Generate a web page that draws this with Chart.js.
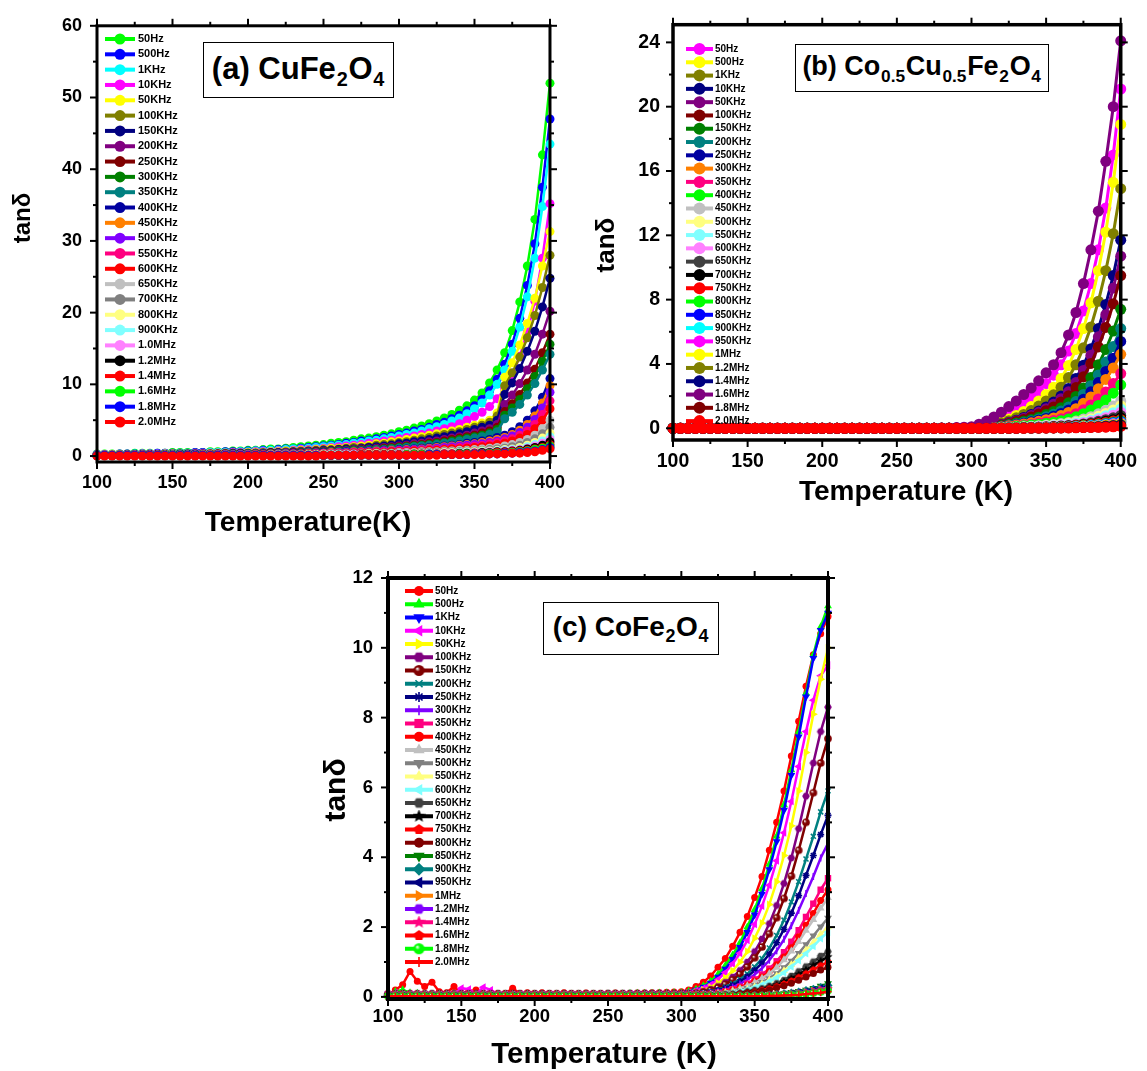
<!DOCTYPE html>
<html>
<head>
<meta charset="utf-8">
<title>tanδ vs temperature</title>
<script src="https://cdn.jsdelivr.net/npm/chart.js@4.4.1/dist/chart.umd.min.js"></script>
<style>
  html, body { margin: 0; padding: 0; background: #fff; }
  body { width: 1147px; height: 1071px; position: relative; overflow: hidden; font-family: "Liberation Sans", Arial, sans-serif; }
  canvas { position: absolute; display: block; }
  .tag { position: absolute; box-sizing: border-box; border: 1.3px solid #000; background: #fff; font-weight: bold; color: #000;
         white-space: nowrap; display: flex; align-items: center; justify-content: center; line-height: 1; padding-bottom: 4px; }
  .tag sub { font-size: 0.64em; position: relative; top: 0.6em; vertical-align: baseline; margin: 0 0.04em; }
</style>
</head>
<body>
<canvas id="panelA" width="575" height="540" style="left:0;top:0"></canvas>
<canvas id="panelB" width="572" height="520" style="left:575px;top:0"></canvas>
<canvas id="panelC" width="560" height="521" style="left:300px;top:550px"></canvas>
<div class="tag" style="left:203px;top:42px;width:191px;height:56px;font-size:31px">(a) CuFe<sub>2</sub>O<sub>4</sub></div>
<div class="tag" style="left:795px;top:44px;width:254px;height:48px;font-size:27px">(b) Co<sub>0.5</sub>Cu<sub>0.5</sub>Fe<sub>2</sub>O<sub>4</sub></div>
<div class="tag" style="left:543px;top:602px;width:176px;height:53px;font-size:28px">(c) CoFe<sub>2</sub>O<sub>4</sub></div>
<script>
// Measurement temperatures (K)
const temperature = [100,105,110,115,120,125,130,135,140,145,150,155,160,165,170,175,180,185,190,195,
  200,205,210,215,220,225,230,235,240,245,250,255,260,265,270,275,280,285,290,295,
  300,305,310,315,320,325,330,335,340,345,350,355,360,365,370,375,380,385,390,395,400];
const tempTicks = [100,150,200,250,300,350,400];

// ---------- (a) CuFe2O4 : tan delta per frequency ----------
const A_50Hz = [0.3,0.3,0.3,0.3,0.3,0.4,0.4,0.4,0.4,0.4,
0.5,0.5,0.5,0.5,0.5,0.6,0.6,0.6,0.7,0.7,
0.8,0.8,0.9,1.0,1.0,1.1,1.2,1.3,1.4,1.5,
1.6,1.8,1.9,2.0,2.2,2.4,2.5,2.7,2.9,3.1,
3.4,3.6,3.9,4.2,4.5,4.9,5.3,5.8,6.4,7.0,
7.8,8.8,10.2,12.0,14.4,17.5,21.5,26.5,33,42,
52];
const A_500Hz = [0.2,0.2,0.2,0.3,0.3,0.3,0.3,0.3,0.4,0.4,
0.4,0.4,0.4,0.5,0.5,0.5,0.5,0.6,0.6,0.6,
0.7,0.7,0.8,0.8,0.9,1.0,1.0,1.1,1.2,1.3,
1.4,1.5,1.6,1.8,1.9,2.1,2.2,2.4,2.6,2.8,
3.0,3.2,3.5,3.7,4.0,4.4,4.7,5.2,5.7,6.3,
7.0,7.9,9.1,10.7,12.8,15.6,19.2,23.8,29.6,37.5,
47];
const A_1kHz = [0.2,0.2,0.2,0.2,0.2,0.3,0.3,0.3,0.3,0.3,
0.3,0.4,0.4,0.4,0.4,0.5,0.5,0.5,0.5,0.6,
0.6,0.7,0.7,0.8,0.8,0.9,1.0,1.0,1.1,1.2,
1.3,1.4,1.5,1.6,1.8,1.9,2.1,2.2,2.4,2.6,
2.8,3.0,3.2,3.5,3.8,4.1,4.4,4.9,5.3,5.9,
6.6,7.4,8.5,10.0,12.0,14.6,18.0,22.2,27.6,34.8,
43.5];
const A_10kHz = [0.2,0.2,0.2,0.2,0.2,0.2,0.3,0.3,0.3,0.3,
0.3,0.3,0.3,0.4,0.4,0.4,0.4,0.4,0.5,0.5,
0.5,0.6,0.6,0.6,0.7,0.7,0.8,0.9,0.9,1.0,
1.1,1.2,1.3,1.4,1.5,1.6,1.8,1.9,2.1,2.2,
2.4,2.6,2.8,3.0,3.2,3.5,3.8,4.1,4.5,5.0,
5.5,6.1,6.9,8.0,9.4,11.3,13.9,17.3,21.6,27.6,
35.2];
const A_50kHz = [0.1,0.1,0.2,0.2,0.2,0.2,0.2,0.2,0.2,0.3,
0.3,0.3,0.3,0.3,0.3,0.4,0.4,0.4,0.4,0.4,
0.5,0.5,0.5,0.6,0.6,0.7,0.7,0.8,0.8,0.9,
1.0,1.1,1.1,1.2,1.3,1.4,1.5,1.7,1.8,2.0,
2.1,2.3,2.5,2.7,2.9,3.1,3.3,3.5,3.7,4.0,
4.3,4.6,5.0,6.0,11.0,13.0,15.5,18.5,22.0,26.5,
31.3];
const A_100kHz = [0.1,0.1,0.1,0.2,0.2,0.2,0.2,0.2,0.2,0.2,
0.3,0.3,0.3,0.3,0.3,0.3,0.3,0.4,0.4,0.4,
0.4,0.4,0.5,0.5,0.5,0.6,0.6,0.7,0.7,0.8,
0.9,0.9,1.0,1.1,1.2,1.2,1.3,1.5,1.6,1.7,
1.9,2.0,2.2,2.4,2.6,2.8,3.0,3.2,3.4,3.7,
4.0,4.3,4.7,5.6,9.8,11.6,13.8,16.5,19.6,23.5,
28.0];
const A_150kHz = [0.1,0.1,0.1,0.1,0.2,0.2,0.2,0.2,0.2,0.2,
0.2,0.3,0.3,0.3,0.3,0.3,0.3,0.3,0.4,0.4,
0.4,0.4,0.4,0.5,0.5,0.5,0.6,0.6,0.7,0.7,
0.8,0.8,0.9,1.0,1.0,1.1,1.2,1.3,1.4,1.5,
1.7,1.8,2.0,2.1,2.3,2.5,2.7,2.9,3.1,3.4,
3.7,4.0,4.3,5.0,8.6,10.2,12.2,14.6,17.4,20.8,
24.8];
const A_200kHz = [0.1,0.1,0.1,0.1,0.1,0.2,0.2,0.2,0.2,0.2,
0.2,0.2,0.2,0.3,0.3,0.3,0.3,0.3,0.3,0.3,
0.3,0.4,0.4,0.4,0.4,0.5,0.5,0.6,0.6,0.6,
0.7,0.7,0.8,0.8,0.9,1.0,1.0,1.1,1.2,1.3,
1.4,1.5,1.7,1.8,2.0,2.1,2.3,2.5,2.7,2.9,
3.2,3.5,3.8,4.4,7.2,8.5,10.1,12.0,14.2,17.0,
20.2];
const A_250kHz = [0.1,0.1,0.1,0.1,0.1,0.1,0.1,0.2,0.2,0.2,
0.2,0.2,0.2,0.2,0.2,0.2,0.3,0.3,0.3,0.3,
0.3,0.3,0.3,0.4,0.4,0.4,0.5,0.5,0.5,0.6,
0.6,0.7,0.7,0.8,0.8,0.9,0.9,1.0,1.1,1.2,
1.3,1.4,1.5,1.6,1.8,1.9,2.1,2.3,2.5,2.7,
2.9,3.2,3.5,4.0,6.2,7.3,8.6,10.2,12.1,14.4,
17.0];
const A_300kHz = [0.1,0.1,0.1,0.1,0.1,0.1,0.1,0.1,0.1,0.2,
0.2,0.2,0.2,0.2,0.2,0.2,0.2,0.2,0.3,0.3,
0.3,0.3,0.3,0.3,0.4,0.4,0.4,0.5,0.5,0.5,
0.6,0.6,0.7,0.7,0.8,0.8,0.9,0.9,1.0,1.1,
1.2,1.3,1.4,1.5,1.6,1.8,1.9,2.1,2.3,2.5,
2.7,2.9,3.2,3.7,5.7,6.7,7.9,9.4,11.1,13.2,
15.6];
const A_350kHz = [0.1,0.1,0.1,0.1,0.1,0.1,0.1,0.1,0.1,0.1,
0.2,0.2,0.2,0.2,0.2,0.2,0.2,0.2,0.2,0.2,
0.3,0.3,0.3,0.3,0.3,0.4,0.4,0.4,0.5,0.5,
0.5,0.6,0.6,0.7,0.7,0.8,0.8,0.9,0.9,1.0,
1.1,1.2,1.3,1.4,1.5,1.6,1.8,1.9,2.1,2.3,
2.5,2.7,3.0,3.4,5.2,6.1,7.2,8.5,10.1,12.0,
14.2];
const A_400kHz = [0.1,0.1,0.1,0.1,0.1,0.1,0.1,0.1,0.1,0.1,
0.1,0.1,0.2,0.2,0.2,0.2,0.2,0.2,0.2,0.2,
0.2,0.2,0.3,0.3,0.3,0.3,0.4,0.4,0.4,0.4,
0.5,0.5,0.5,0.6,0.6,0.7,0.7,0.7,0.8,0.8,
0.9,1.0,1.0,1.1,1.2,1.3,1.4,1.5,1.6,1.8,
1.9,2.1,2.3,2.6,2.9,3.4,4.1,5.0,6.3,8.2,
10.8];
const A_450kHz = [0.1,0.1,0.1,0.1,0.1,0.1,0.1,0.1,0.1,0.1,
0.1,0.1,0.1,0.1,0.2,0.2,0.2,0.2,0.2,0.2,
0.2,0.2,0.2,0.3,0.3,0.3,0.3,0.3,0.4,0.4,
0.4,0.5,0.5,0.5,0.6,0.6,0.6,0.7,0.7,0.8,
0.8,0.9,0.9,1.0,1.1,1.2,1.3,1.4,1.5,1.6,
1.7,1.9,2.1,2.3,2.6,3.0,3.6,4.4,5.6,7.4,
9.8];
const A_500kHz = [0.1,0.1,0.1,0.1,0.1,0.1,0.1,0.1,0.1,0.1,
0.1,0.1,0.1,0.1,0.1,0.1,0.2,0.2,0.2,0.2,
0.2,0.2,0.2,0.2,0.3,0.3,0.3,0.3,0.3,0.4,
0.4,0.4,0.5,0.5,0.5,0.5,0.6,0.6,0.7,0.7,
0.8,0.8,0.9,0.9,1.0,1.1,1.2,1.3,1.4,1.5,
1.6,1.7,1.9,2.1,2.4,2.8,3.3,4.0,5.1,6.7,
8.9];
const A_550kHz = [0.1,0.1,0.1,0.1,0.1,0.1,0.1,0.1,0.1,0.1,
0.1,0.1,0.1,0.1,0.1,0.1,0.1,0.1,0.1,0.1,
0.2,0.2,0.2,0.2,0.2,0.3,0.3,0.3,0.3,0.3,
0.4,0.4,0.4,0.4,0.5,0.5,0.5,0.6,0.6,0.6,
0.7,0.7,0.8,0.8,0.9,0.9,1.0,1.1,1.2,1.3,
1.4,1.5,1.7,1.9,2.1,2.4,2.9,3.5,4.4,5.8,
7.7];
const A_600kHz = [0.1,0.1,0.1,0.1,0.1,0.1,0.1,0.1,0.1,0.1,
0.1,0.1,0.1,0.1,0.1,0.1,0.1,0.1,0.1,0.1,
0.1,0.2,0.2,0.2,0.2,0.2,0.2,0.3,0.3,0.3,
0.3,0.3,0.4,0.4,0.4,0.4,0.5,0.5,0.5,0.6,
0.6,0.6,0.7,0.7,0.8,0.8,0.9,1.0,1.0,1.1,
1.2,1.3,1.4,1.6,1.8,2.1,2.5,3.0,3.8,5.0,
6.6];
const A_650kHz = [0.1,0.1,0.1,0.1,0.1,0.1,0.1,0.1,0.1,0.1,
0.1,0.1,0.1,0.1,0.1,0.1,0.1,0.1,0.1,0.1,
0.1,0.1,0.1,0.2,0.2,0.2,0.2,0.2,0.2,0.2,
0.3,0.3,0.3,0.3,0.3,0.3,0.4,0.4,0.4,0.4,
0.5,0.5,0.5,0.6,0.6,0.6,0.7,0.7,0.8,0.8,
0.9,1.0,1.1,1.2,1.4,1.6,1.9,2.3,2.9,3.8,
5.0];
const A_700kHz = [0.1,0.1,0.1,0.1,0.1,0.1,0.1,0.1,0.1,0.1,
0.1,0.1,0.1,0.1,0.1,0.1,0.1,0.1,0.1,0.1,
0.1,0.1,0.1,0.1,0.1,0.2,0.2,0.2,0.2,0.2,
0.2,0.2,0.3,0.3,0.3,0.3,0.3,0.3,0.4,0.4,
0.4,0.4,0.4,0.5,0.5,0.5,0.6,0.6,0.6,0.7,
0.7,0.8,0.9,1.0,1.1,1.3,1.5,1.9,2.4,3.1,
4.0];
const A_800kHz = [0.1,0.1,0.1,0.1,0.1,0.1,0.1,0.1,0.1,0.1,
0.1,0.1,0.1,0.1,0.1,0.1,0.1,0.1,0.1,0.1,
0.1,0.1,0.1,0.1,0.1,0.1,0.1,0.1,0.2,0.2,
0.2,0.2,0.2,0.2,0.2,0.2,0.3,0.3,0.3,0.3,
0.3,0.3,0.4,0.4,0.4,0.4,0.5,0.5,0.5,0.6,
0.6,0.7,0.7,0.8,0.9,1.0,1.2,1.5,1.9,2.5,
3.2];
const A_900kHz = [0.1,0.1,0.1,0.1,0.1,0.1,0.1,0.1,0.1,0.1,
0.1,0.1,0.1,0.1,0.1,0.1,0.1,0.1,0.1,0.1,
0.1,0.1,0.1,0.1,0.1,0.1,0.1,0.1,0.1,0.1,
0.1,0.2,0.2,0.2,0.2,0.2,0.2,0.2,0.2,0.3,
0.3,0.3,0.3,0.3,0.4,0.4,0.4,0.4,0.5,0.5,
0.5,0.6,0.6,0.7,0.8,0.9,1.0,1.3,1.6,2.1,
2.7];
const A_1MHz = [0.1,0.1,0.1,0.1,0.1,0.1,0.1,0.1,0.1,0.1,
0.1,0.1,0.1,0.1,0.1,0.1,0.1,0.1,0.1,0.1,
0.1,0.1,0.1,0.1,0.1,0.1,0.1,0.1,0.1,0.1,
0.1,0.1,0.1,0.2,0.2,0.2,0.2,0.2,0.2,0.2,
0.3,0.3,0.3,0.3,0.3,0.3,0.4,0.4,0.4,0.4,
0.5,0.5,0.6,0.6,0.7,0.8,0.9,1.1,1.4,1.8,
2.3];
const A_1p2MHz = [0.1,0.1,0.1,0.1,0.1,0.1,0.1,0.1,0.1,0.1,
0.1,0.1,0.1,0.1,0.1,0.1,0.1,0.1,0.1,0.1,
0.1,0.1,0.1,0.1,0.1,0.1,0.1,0.1,0.1,0.1,
0.1,0.1,0.1,0.1,0.1,0.2,0.2,0.2,0.2,0.2,
0.2,0.2,0.3,0.3,0.3,0.3,0.3,0.3,0.4,0.4,
0.4,0.5,0.5,0.6,0.6,0.7,0.8,1.0,1.2,1.5,
2.0];
const A_1p4MHz = [0.1,0.1,0.1,0.1,0.1,0.1,0.1,0.1,0.1,0.1,
0.1,0.1,0.1,0.1,0.1,0.1,0.1,0.1,0.1,0.1,
0.1,0.1,0.1,0.1,0.1,0.1,0.1,0.1,0.1,0.1,
0.1,0.1,0.1,0.1,0.1,0.2,0.2,0.2,0.2,0.2,
0.2,0.2,0.2,0.2,0.2,0.3,0.3,0.3,0.3,0.3,
0.4,0.4,0.4,0.5,0.5,0.6,0.7,0.8,1.0,1.2,
1.6];
const A_1p6MHz = [0.1,0.1,0.1,0.1,0.1,0.1,0.1,0.1,0.1,0.1,
0.1,0.1,0.1,0.1,0.1,0.1,0.1,0.1,0.1,0.1,
0.1,0.1,0.1,0.1,0.1,0.1,0.1,0.1,0.1,0.1,
0.1,0.1,0.1,0.1,0.1,0.1,0.1,0.1,0.1,0.1,
0.1,0.2,0.2,0.2,0.2,0.2,0.2,0.2,0.3,0.3,
0.3,0.3,0.4,0.4,0.4,0.5,0.6,0.7,0.9,1.1,
1.4];
const A_1p8MHz = [0.1,0.1,0.1,0.1,0.1,0.1,0.1,0.1,0.1,0.1,
0.1,0.1,0.1,0.1,0.1,0.1,0.1,0.1,0.1,0.1,
0.1,0.1,0.1,0.1,0.1,0.1,0.1,0.1,0.1,0.1,
0.1,0.1,0.1,0.1,0.1,0.1,0.1,0.1,0.1,0.1,
0.1,0.1,0.1,0.1,0.2,0.2,0.2,0.2,0.2,0.2,
0.3,0.3,0.3,0.3,0.4,0.4,0.5,0.6,0.7,0.9,
1.2];
const A_2MHz = [0,0,0,0,0,0,0,0,0,0,
0,0,0,0,0,0,0,0,0,0,
0,0,0,0,0,0,0,0,0,0,
0.1,0.1,0.1,0.1,0.1,0.1,0.1,0.1,0.1,0.1,
0.1,0.1,0.1,0.1,0.1,0.1,0.2,0.2,0.2,0.2,
0.2,0.2,0.3,0.3,0.3,0.4,0.4,0.5,0.6,0.8,
1.0];

// ---------- (b) Co0.5Cu0.5Fe2O4 ----------
const B_50Hz = [0,0,0,0,0,0,0,0,0,0,
0,0,0,0,0,0,0,0,0,0,
0,0,0,0,0,0,0,0,0,0,
0,0,0,0,0,0,0,0,0.01,0.03,
0.05,0.12,0.25,0.42,0.65,0.92,1.22,1.55,1.92,2.32,
2.78,3.3,3.95,4.8,5.9,7.3,9.0,11.1,13.7,17.0,
21.1];
const B_500Hz = [0,0,0,0,0,0,0,0,0,0,
0,0,0,0,0,0,0,0,0,0,
0,0,0,0,0,0,0,0,0,0,
0,0,0,0,0,0,0,0,0,0.01,
0.03,0.08,0.15,0.25,0.4,0.58,0.8,1.05,1.35,1.7,
2.1,2.55,3.1,3.9,4.9,6.2,7.8,9.8,12.2,15.3,
18.9];
const B_1kHz = [0,0,0,0,0,0,0,0,0,0,
0,0,0,0,0,0,0,0,0,0,
0,0,0,0,0,0,0,0,0,0,
0,0,0,0,0,0,0,0,0,0,
0.02,0.06,0.12,0.2,0.32,0.47,0.65,0.86,1.1,1.38,
1.7,2.08,2.55,3.15,3.95,5.0,6.3,7.9,9.8,12.1,
14.9];
const B_10kHz = [0,0,0,0,0,0,0,0,0,0,
0,0,0,0,0,0,0,0,0,0,
0,0,0,0,0,0,0,0,0,0,
0,0,0,0,0,0,0,0,0,0,
0.02,0.05,0.09,0.15,0.24,0.36,0.5,0.67,0.86,1.08,
1.33,1.63,2.0,2.47,3.1,3.92,4.94,6.2,7.7,9.5,
11.7];
const B_50kHz = [0,0,0,0,0,0,0,0,0,0,
0,0,0,0,0,0,0,0,0,0,
0,0,0,0,0,0,0,0,0,0,
0,0,0,0,0,0,0,0,0,0,
0.01,0.04,0.09,0.14,0.23,0.34,0.47,0.62,0.79,0.99,
1.22,1.5,1.84,2.27,2.84,3.6,4.54,5.69,7.06,8.72,
10.7];
const B_100kHz = [0,0,0,0,0,0,0,0,0,0,
0,0,0,0,0,0,0,0,0,0,
0,0,0,0,0,0,0,0,0,0,
0,0,0,0,0,0,0,0,0,0,
0.01,0.04,0.08,0.13,0.2,0.3,0.42,0.55,0.7,0.88,
1.09,1.33,1.63,2.02,2.53,3.2,4.03,5.06,6.27,7.74,
9.5];
const B_150kHz = [0,0,0,0,0,0,0,0,0,0,
0,0,0,0,0,0,0,0,0,0,
0,0,0,0,0,0,0,0,0,0,
0,0,0,0,0,0,0,0,0,0,
0.01,0.03,0.06,0.1,0.16,0.24,0.33,0.43,0.55,0.69,
0.85,1.04,1.28,1.58,1.98,2.5,3.15,3.95,4.9,6.05,
7.4];
const B_200kHz = [0,0,0,0,0,0,0,0,0,0,
0,0,0,0,0,0,0,0,0,0,
0,0,0,0,0,0,0,0,0,0,
0,0,0,0,0,0,0,0,0,0,
0.01,0.03,0.05,0.08,0.13,0.2,0.27,0.36,0.46,0.58,
0.71,0.87,1.07,1.32,1.66,2.1,2.65,3.32,4.12,5.08,
6.2];
const B_250kHz = [0,0,0,0,0,0,0,0,0,0,
0,0,0,0,0,0,0,0,0,0,
0,0,0,0,0,0,0,0,0,0,
0,0,0,0,0,0,0,0,0,0,
0.01,0.02,0.04,0.07,0.12,0.17,0.23,0.31,0.4,0.5,
0.61,0.75,0.92,1.13,1.42,1.8,2.27,2.84,3.53,4.36,
5.4];
const B_300kHz = [0,0,0,0,0,0,0,0,0,0,
0,0,0,0,0,0,0,0,0,0,
0,0,0,0,0,0,0,0,0,0,
0,0,0,0,0,0,0,0,0,0,
0.01,0.02,0.04,0.06,0.1,0.15,0.2,0.27,0.34,0.43,
0.53,0.64,0.79,0.98,1.22,1.55,1.95,2.45,3.04,3.75,
4.6];
const B_350kHz = [0,0,0,0,0,0,0,0,0,0,
0,0,0,0,0,0,0,0,0,0,
0,0,0,0,0,0,0,0,0,0,
0,0,0,0,0,0,0,0,0,0,
0,0.01,0.03,0.05,0.07,0.11,0.15,0.2,0.25,0.32,
0.39,0.48,0.59,0.72,0.91,1.15,1.45,1.82,2.25,2.78,
3.4];
const B_400kHz = [0,0,0,0,0,0,0,0,0,0,
0,0,0,0,0,0,0,0,0,0,
0,0,0,0,0,0,0,0,0,0,
0,0,0,0,0,0,0,0,0,0,
0,0.01,0.02,0.04,0.06,0.08,0.12,0.15,0.2,0.25,
0.31,0.37,0.46,0.57,0.71,0.9,1.13,1.42,1.76,2.18,
2.7];
const B_450kHz = [0,0,0,0,0,0,0,0,0,0,
0,0,0,0,0,0,0,0,0,0,
0,0,0,0,0,0,0,0,0,0,
0,0,0,0,0,0,0,0,0,0,
0,0.01,0.01,0.02,0.04,0.05,0.07,0.1,0.13,0.16,
0.19,0.24,0.29,0.36,0.45,0.57,0.72,0.9,1.12,1.38,
1.7];
const B_500kHz = [0,0,0,0,0,0,0,0,0,0,
0,0,0,0,0,0,0,0,0,0,
0,0,0,0,0,0,0,0,0,0,
0,0,0,0,0,0,0,0,0,0,
0,0.01,0.01,0.02,0.03,0.04,0.06,0.08,0.1,0.13,
0.16,0.2,0.24,0.3,0.37,0.47,0.59,0.74,0.92,1.14,
1.4];
const B_550kHz = [0,0,0,0,0,0,0,0,0,0,
0,0,0,0,0,0,0,0,0,0,
0,0,0,0,0,0,0,0,0,0,
0,0,0,0,0,0,0,0,0,0,
0,0,0.01,0.02,0.03,0.04,0.05,0.07,0.09,0.11,
0.14,0.17,0.2,0.25,0.32,0.4,0.5,0.63,0.78,0.97,
1.2];
const B_600kHz = [0,0,0,0,0,0,0,0,0,0,
0,0,0,0,0,0,0,0,0,0,
0,0,0,0,0,0,0,0,0,0,
0,0,0,0,0,0,0,0,0,0,
0,0,0.01,0.01,0.02,0.03,0.04,0.06,0.07,0.09,
0.11,0.14,0.17,0.21,0.26,0.34,0.42,0.53,0.66,0.81,
1.0];
const B_650kHz = [0,0,0,0,0,0,0,0,0,0,
0,0,0,0,0,0,0,0,0,0,
0,0,0,0,0,0,0,0,0,0,
0,0,0,0,0,0,0,0,0,0,
0,0,0.01,0.01,0.02,0.03,0.04,0.05,0.06,0.07,
0.09,0.11,0.14,0.17,0.21,0.27,0.34,0.43,0.53,0.65,
0.8];
const B_700kHz = [0,0,0,0,0,0,0,0,0,0,
0,0,0,0,0,0,0,0,0,0,
0,0,0,0,0,0,0,0,0,0,
0,0,0,0,0,0,0,0,0,0,
0,0,0,0.01,0.02,0.02,0.03,0.04,0.05,0.06,
0.07,0.09,0.11,0.14,0.17,0.22,0.27,0.34,0.43,0.53,
0.65];
const B_750kHz = [0,0,0,0,0,0,0,0,0,0,
0,0,0,0,0,0,0,0,0,0,
0,0,0,0,0,0,0,0,0,0,
0,0,0,0,0,0,0,0,0,0,
0,0,0,0.01,0.01,0.02,0.02,0.03,0.04,0.05,
0.06,0.08,0.09,0.12,0.15,0.18,0.23,0.29,0.36,0.45,
0.55];
const B_800kHz = [0,0,0,0,0,0,0,0,0,0,
0,0,0,0,0,0,0,0,0,0,
0,0,0,0,0,0,0,0,0,0,
0,0,0,0,0,0,0,0,0,0,
0,0,0,0,0.01,0.01,0.02,0.02,0.03,0.04,
0.05,0.06,0.08,0.1,0.12,0.15,0.19,0.24,0.3,0.38,
0.48];
const B_850kHz = [0,0,0,0,0,0,0,0,0,0,
0,0,0,0,0,0,0,0,0,0,
0,0,0,0,0,0,0,0,0,0,
0,0,0,0,0,0,0,0,0,0,
0,0,0,0,0,0.01,0.01,0.02,0.03,0.03,
0.04,0.05,0.07,0.08,0.1,0.13,0.17,0.21,0.27,0.34,
0.42];
const B_900kHz = [0,0,0,0,0,0,0,0,0,0,
0,0,0,0,0,0,0,0,0,0,
0,0,0,0,0,0,0,0,0,0,
0,0,0,0,0,0,0,0,0,0,
0,0,0,0,0,0.01,0.01,0.02,0.02,0.03,
0.04,0.05,0.06,0.07,0.09,0.12,0.15,0.19,0.24,0.3,
0.37];
const B_950kHz = [0,0,0,0,0,0,0,0,0,0,
0,0,0,0,0,0,0,0,0,0,
0,0,0,0,0,0,0,0,0,0,
0,0,0,0,0,0,0,0,0,0,
0,0,0,0,0,0,0.01,0.01,0.02,0.02,
0.03,0.04,0.05,0.06,0.08,0.1,0.13,0.16,0.2,0.26,
0.32];
const B_1MHz = [0,0,0,0,0,0,0,0,0,0,
0,0,0,0,0,0,0,0,0,0,
0,0,0,0,0,0,0,0,0,0,
0,0,0,0,0,0,0,0,0,0,
0,0,0,0,0,0,0.01,0.01,0.02,0.02,
0.03,0.03,0.04,0.05,0.07,0.09,0.11,0.14,0.18,0.22,
0.28];
const B_1p2MHz = [0,0,0,0,0,0,0,0,0,0,
0,0,0,0,0,0,0,0,0,0,
0,0,0,0,0,0,0,0,0,0,
0,0,0,0,0,0,0,0,0,0,
0,0,0,0,0,0,0.01,0.01,0.01,0.02,
0.02,0.03,0.04,0.05,0.06,0.07,0.09,0.12,0.15,0.19,
0.24];
const B_1p4MHz = [0,0,0,0,0,0,0,0,0,0,
0,0,0,0,0,0,0,0,0,0,
0,0,0,0,0,0,0,0,0,0,
0,0,0,0,0,0,0,0,0,0,
0,0,0,0,0,0,0,0.01,0.01,0.02,
0.02,0.02,0.03,0.04,0.05,0.06,0.08,0.1,0.13,0.16,
0.2];
const B_1p6MHz = [0,0,0,0,0,0,0,0,0,0,
0,0,0,0,0,0,0,0,0,0,
0,0,0,0,0,0,0,0,0,0,
0,0,0,0,0,0,0.01,0.02,0.04,0.07,
0.1,0.25,0.45,0.7,1.0,1.35,1.7,2.1,2.5,2.95,
3.45,3.95,4.7,5.8,7.2,9.0,11.1,13.5,16.6,20.0,
24.1];
const B_1p8MHz = [0,0,0,0,0,0,0,0,0,0,
0,0,0,0,0,0,0,0,0,0,
0,0,0,0,0,0,0,0,0,0,
0,0,0,0,0,0,0,0,0,0,
0,0,0,0,0,0,0,0.01,0.01,0.01,
0.02,0.02,0.02,0.03,0.04,0.05,0.06,0.07,0.09,0.12,
0.15];
const B_2MHz = [0,0,0,0,0,0,0,0,0,0,
0,0,0,0,0,0,0,0,0,0,
0,0,0,0,0,0,0,0,0,0,
0,0,0,0,0,0,0,0,0,0,
0,0,0,0,0,0,0,0,0.01,0.01,
0.01,0.02,0.02,0.02,0.03,0.04,0.05,0.06,0.07,0.09,
0.12];

// ---------- (c) CoFe2O4 ----------
const C_50Hz = [0.05,0.2,0.35,0.73,0.45,0.3,0.42,0.15,0.12,0.3,
0.1,0.15,0.2,0.1,0.12,0.1,0.1,0.25,0.1,0.12,
0.1,0.12,0.1,0.1,0.12,0.1,0.1,0.11,0.1,0.1,
0.1,0.11,0.1,0.1,0.11,0.11,0.12,0.12,0.13,0.14,
0.15,0.2,0.3,0.42,0.6,0.85,1.1,1.45,1.85,2.3,
2.85,3.45,4.2,5.0,5.9,6.9,7.9,8.9,9.8,10.4,
10.9];
const C_500Hz = [0.05,0.15,0.2,0.12,0.1,0.08,0.08,0.08,0.08,0.08,
0.08,0.08,0.08,0.08,0.08,0.08,0.08,0.08,0.08,0.08,
0.08,0.08,0.08,0.08,0.08,0.08,0.08,0.08,0.08,0.08,
0.09,0.09,0.09,0.1,0.1,0.1,0.1,0.11,0.11,0.12,
0.12,0.16,0.22,0.32,0.45,0.65,0.9,1.2,1.55,2.0,
2.5,3.1,3.8,4.6,5.5,6.5,7.6,8.7,9.8,10.6,
11.2];
const C_1kHz = [0.08,0.08,0.08,0.08,0.08,0.08,0.08,0.08,0.08,0.08,
0.08,0.08,0.08,0.08,0.08,0.08,0.08,0.08,0.08,0.08,
0.08,0.08,0.08,0.08,0.08,0.08,0.08,0.08,0.08,0.08,
0.09,0.09,0.09,0.09,0.1,0.1,0.1,0.1,0.1,0.1,
0.1,0.14,0.2,0.28,0.4,0.57,0.8,1.08,1.42,1.85,
2.35,2.95,3.65,4.45,5.35,6.35,7.45,8.6,9.7,10.5,
11.0];
const C_10kHz = [0.08,0.12,0.08,0.08,0.08,0.08,0.08,0.08,0.08,0.08,
0.25,0.22,0.08,0.28,0.2,0.08,0.08,0.08,0.08,0.08,
0.08,0.08,0.08,0.08,0.08,0.08,0.08,0.08,0.08,0.08,
0.08,0.08,0.09,0.09,0.09,0.1,0.1,0.1,0.1,0.1,
0.1,0.13,0.18,0.25,0.35,0.5,0.7,0.95,1.25,1.62,
2.08,2.6,3.2,3.9,4.7,5.6,6.6,7.6,8.5,9.2,
9.5];
const C_50kHz = [0.08,0.08,0.08,0.08,0.08,0.08,0.08,0.08,0.08,0.08,
0.08,0.08,0.08,0.08,0.08,0.08,0.08,0.08,0.08,0.08,
0.08,0.08,0.08,0.08,0.08,0.08,0.08,0.08,0.08,0.08,
0.09,0.09,0.09,0.09,0.09,0.09,0.09,0.09,0.09,0.09,
0.1,0.11,0.14,0.2,0.28,0.4,0.55,0.75,1.0,1.3,
1.68,2.12,2.65,3.3,4.05,4.9,5.9,7.0,8.1,9.1,
10.0];
const C_100kHz = [0.09,0.09,0.09,0.09,0.09,0.09,0.09,0.09,0.09,0.09,
0.09,0.09,0.09,0.09,0.09,0.09,0.09,0.09,0.09,0.09,
0.09,0.09,0.09,0.09,0.09,0.09,0.09,0.09,0.09,0.09,
0.1,0.1,0.1,0.1,0.1,0.1,0.1,0.1,0.1,0.1,
0.1,0.1,0.12,0.16,0.22,0.3,0.42,0.57,0.76,1.0,
1.3,1.66,2.1,2.62,3.25,3.98,4.82,5.75,6.7,7.6,
8.3];
const C_150kHz = [0.09,0.09,0.09,0.09,0.09,0.09,0.09,0.09,0.09,0.09,
0.09,0.09,0.09,0.09,0.09,0.09,0.09,0.09,0.09,0.09,
0.09,0.09,0.09,0.09,0.09,0.09,0.09,0.09,0.09,0.09,
0.09,0.09,0.09,0.09,0.09,0.09,0.09,0.09,0.09,0.09,
0.09,0.09,0.1,0.14,0.19,0.26,0.36,0.49,0.65,0.86,
1.12,1.43,1.81,2.27,2.82,3.46,4.2,5.0,5.85,6.7,
7.4];
const C_200kHz = [0.08,0.08,0.08,0.08,0.08,0.08,0.08,0.08,0.08,0.08,
0.08,0.08,0.08,0.08,0.08,0.08,0.08,0.08,0.08,0.08,
0.08,0.08,0.08,0.08,0.08,0.08,0.08,0.08,0.08,0.08,
0.08,0.08,0.08,0.08,0.08,0.08,0.08,0.08,0.08,0.08,
0.08,0.08,0.09,0.11,0.15,0.2,0.28,0.38,0.5,0.66,
0.86,1.1,1.4,1.76,2.2,2.72,3.3,3.95,4.6,5.3,
5.9];
const C_250kHz = [0.08,0.08,0.08,0.08,0.08,0.08,0.08,0.08,0.08,0.08,
0.08,0.08,0.08,0.08,0.08,0.08,0.08,0.08,0.08,0.08,
0.08,0.08,0.08,0.08,0.08,0.08,0.08,0.08,0.08,0.08,
0.08,0.08,0.08,0.08,0.08,0.08,0.08,0.08,0.08,0.08,
0.08,0.08,0.08,0.1,0.13,0.18,0.25,0.33,0.44,0.58,
0.76,0.97,1.23,1.55,1.94,2.4,2.9,3.48,4.05,4.65,
5.2];
const C_300kHz = [0.07,0.07,0.07,0.07,0.07,0.07,0.07,0.07,0.07,0.07,
0.07,0.07,0.07,0.07,0.07,0.07,0.07,0.07,0.07,0.07,
0.07,0.07,0.07,0.07,0.07,0.07,0.07,0.07,0.07,0.07,
0.07,0.07,0.07,0.07,0.07,0.07,0.07,0.07,0.07,0.07,
0.07,0.07,0.08,0.09,0.11,0.15,0.21,0.28,0.37,0.5,
0.64,0.82,1.05,1.32,1.65,2.04,2.48,2.96,3.45,3.98,
4.4];
const C_350kHz = [0.07,0.07,0.07,0.07,0.07,0.07,0.07,0.07,0.07,0.07,
0.07,0.07,0.07,0.07,0.07,0.07,0.07,0.07,0.07,0.07,
0.07,0.07,0.07,0.07,0.07,0.07,0.07,0.07,0.07,0.07,
0.07,0.07,0.07,0.07,0.07,0.07,0.07,0.07,0.07,0.07,
0.07,0.07,0.07,0.08,0.09,0.12,0.16,0.22,0.29,0.38,
0.5,0.64,0.81,1.02,1.28,1.58,1.91,2.29,2.67,3.07,
3.4];
const C_400kHz = [0.06,0.06,0.06,0.06,0.06,0.06,0.06,0.06,0.06,0.06,
0.06,0.06,0.06,0.06,0.06,0.06,0.06,0.06,0.06,0.06,
0.06,0.06,0.06,0.06,0.06,0.06,0.06,0.06,0.06,0.06,
0.06,0.06,0.06,0.06,0.06,0.06,0.06,0.06,0.06,0.06,
0.06,0.06,0.07,0.07,0.08,0.1,0.15,0.2,0.26,0.34,
0.45,0.57,0.73,0.92,1.14,1.41,1.72,2.05,2.39,2.76,
3.07];
const C_450kHz = [0.06,0.06,0.06,0.06,0.06,0.06,0.06,0.06,0.06,0.06,
0.06,0.06,0.06,0.06,0.06,0.06,0.06,0.06,0.06,0.06,
0.06,0.06,0.06,0.06,0.06,0.06,0.06,0.06,0.06,0.06,
0.06,0.06,0.06,0.06,0.06,0.06,0.06,0.06,0.06,0.06,
0.06,0.06,0.06,0.07,0.08,0.1,0.13,0.18,0.24,0.32,
0.41,0.53,0.67,0.84,1.06,1.31,1.58,1.9,2.21,2.54,
2.84];
const C_500kHz = [0.06,0.06,0.06,0.06,0.06,0.06,0.06,0.06,0.06,0.06,
0.06,0.06,0.06,0.06,0.06,0.06,0.06,0.06,0.06,0.06,
0.06,0.06,0.06,0.06,0.06,0.06,0.06,0.06,0.06,0.06,
0.06,0.06,0.06,0.06,0.06,0.06,0.06,0.06,0.06,0.06,
0.06,0.06,0.06,0.06,0.07,0.08,0.11,0.14,0.19,0.25,
0.33,0.42,0.53,0.67,0.84,1.03,1.25,1.5,1.75,2.01,
2.26];
const C_550kHz = [0.05,0.05,0.05,0.05,0.05,0.05,0.05,0.05,0.05,0.05,
0.05,0.05,0.05,0.05,0.05,0.05,0.05,0.05,0.05,0.05,
0.05,0.05,0.05,0.05,0.05,0.05,0.05,0.05,0.05,0.05,
0.05,0.05,0.05,0.05,0.05,0.05,0.05,0.05,0.05,0.05,
0.05,0.05,0.05,0.06,0.06,0.07,0.1,0.13,0.17,0.22,
0.29,0.37,0.48,0.6,0.75,0.92,1.12,1.34,1.56,1.8,
2.0];
const C_600kHz = [0.05,0.05,0.05,0.05,0.05,0.05,0.05,0.05,0.05,0.05,
0.05,0.05,0.05,0.05,0.05,0.05,0.05,0.05,0.05,0.05,
0.05,0.05,0.05,0.05,0.05,0.05,0.05,0.05,0.05,0.05,
0.05,0.05,0.05,0.05,0.05,0.05,0.05,0.05,0.05,0.05,
0.05,0.05,0.05,0.05,0.06,0.07,0.09,0.12,0.16,0.21,
0.27,0.35,0.44,0.55,0.69,0.86,1.04,1.24,1.45,1.67,
1.86];
const C_650kHz = [0.05,0.05,0.05,0.05,0.05,0.05,0.05,0.05,0.05,0.05,
0.05,0.05,0.05,0.05,0.05,0.05,0.05,0.05,0.05,0.05,
0.05,0.05,0.05,0.05,0.05,0.05,0.05,0.05,0.05,0.05,
0.05,0.05,0.05,0.05,0.05,0.05,0.05,0.05,0.05,0.05,
0.05,0.05,0.05,0.05,0.05,0.06,0.07,0.08,0.11,0.15,
0.19,0.24,0.31,0.39,0.48,0.6,0.73,0.87,1.01,1.17,
1.3];
const C_700kHz = [0.04,0.04,0.04,0.04,0.04,0.04,0.04,0.04,0.04,0.04,
0.04,0.04,0.04,0.04,0.04,0.04,0.04,0.04,0.04,0.04,
0.04,0.04,0.04,0.04,0.04,0.04,0.04,0.04,0.04,0.04,
0.04,0.04,0.04,0.04,0.04,0.04,0.04,0.04,0.04,0.04,
0.04,0.04,0.04,0.04,0.05,0.05,0.06,0.07,0.1,0.13,
0.17,0.21,0.27,0.34,0.43,0.53,0.64,0.77,0.9,1.03,
1.15];
const C_750kHz = [0.04,0.04,0.04,0.04,0.04,0.04,0.04,0.04,0.04,0.04,
0.04,0.04,0.04,0.04,0.04,0.04,0.04,0.04,0.04,0.04,
0.04,0.04,0.04,0.04,0.04,0.04,0.04,0.04,0.04,0.04,
0.04,0.04,0.04,0.04,0.04,0.04,0.04,0.04,0.04,0.04,
0.04,0.04,0.04,0.04,0.04,0.05,0.05,0.06,0.09,0.11,
0.15,0.19,0.24,0.3,0.37,0.46,0.56,0.67,0.78,0.9,
1.0];
const C_800kHz = [0.04,0.04,0.04,0.04,0.04,0.04,0.04,0.04,0.04,0.04,
0.04,0.04,0.04,0.04,0.04,0.04,0.04,0.04,0.04,0.04,
0.04,0.04,0.04,0.04,0.04,0.04,0.04,0.04,0.04,0.04,
0.04,0.04,0.04,0.04,0.04,0.04,0.04,0.04,0.04,0.04,
0.04,0.04,0.04,0.04,0.04,0.04,0.05,0.06,0.07,0.1,
0.12,0.16,0.2,0.26,0.32,0.39,0.48,0.57,0.67,0.77,
0.85];
const C_850kHz = [0.03,0.03,0.03,0.03,0.03,0.03,0.03,0.03,0.03,0.03,
0.03,0.03,0.03,0.03,0.03,0.03,0.03,0.03,0.03,0.03,
0.03,0.03,0.03,0.03,0.03,0.03,0.03,0.03,0.03,0.03,
0.03,0.03,0.03,0.03,0.03,0.03,0.03,0.03,0.03,0.03,
0.03,0.03,0.03,0.03,0.03,0.03,0.03,0.03,0.03,0.03,
0.04,0.05,0.06,0.08,0.1,0.13,0.16,0.2,0.25,0.31,
0.38];
const C_900kHz = [0.03,0.03,0.03,0.03,0.03,0.03,0.03,0.03,0.03,0.03,
0.03,0.03,0.03,0.03,0.03,0.03,0.03,0.03,0.03,0.03,
0.03,0.03,0.03,0.03,0.03,0.03,0.03,0.03,0.03,0.03,
0.03,0.03,0.03,0.03,0.03,0.03,0.03,0.03,0.03,0.03,
0.03,0.03,0.03,0.03,0.03,0.03,0.03,0.03,0.03,0.03,
0.04,0.04,0.05,0.07,0.09,0.11,0.14,0.18,0.22,0.27,
0.33];
const C_950kHz = [0.03,0.03,0.03,0.03,0.03,0.03,0.03,0.03,0.03,0.03,
0.03,0.03,0.03,0.03,0.03,0.03,0.03,0.03,0.03,0.03,
0.03,0.03,0.03,0.03,0.03,0.03,0.03,0.03,0.03,0.03,
0.03,0.03,0.03,0.03,0.03,0.03,0.03,0.03,0.03,0.03,
0.03,0.03,0.03,0.03,0.03,0.03,0.03,0.03,0.03,0.03,
0.03,0.04,0.05,0.06,0.08,0.1,0.13,0.16,0.2,0.25,
0.3];
const C_1MHz = [0.03,0.03,0.03,0.03,0.03,0.03,0.03,0.03,0.03,0.03,
0.03,0.03,0.03,0.03,0.03,0.03,0.03,0.03,0.03,0.03,
0.03,0.03,0.03,0.03,0.03,0.03,0.03,0.03,0.03,0.03,
0.03,0.03,0.03,0.03,0.03,0.03,0.03,0.03,0.03,0.03,
0.03,0.03,0.03,0.03,0.03,0.03,0.03,0.03,0.03,0.03,
0.03,0.04,0.05,0.06,0.07,0.09,0.11,0.14,0.18,0.22,
0.27];
const C_1p2MHz = [0.02,0.02,0.02,0.02,0.02,0.02,0.02,0.02,0.02,0.02,
0.02,0.02,0.02,0.02,0.02,0.02,0.02,0.02,0.02,0.02,
0.02,0.02,0.02,0.02,0.02,0.02,0.02,0.02,0.02,0.02,
0.02,0.02,0.02,0.02,0.02,0.02,0.02,0.02,0.02,0.02,
0.02,0.02,0.02,0.02,0.02,0.02,0.02,0.02,0.02,0.02,
0.03,0.03,0.04,0.05,0.06,0.08,0.1,0.12,0.15,0.19,
0.24];
const C_1p4MHz = [0.02,0.02,0.02,0.02,0.02,0.02,0.02,0.02,0.02,0.02,
0.02,0.02,0.02,0.02,0.02,0.02,0.02,0.02,0.02,0.02,
0.02,0.02,0.02,0.02,0.02,0.02,0.02,0.02,0.02,0.02,
0.02,0.02,0.02,0.02,0.02,0.02,0.02,0.02,0.02,0.02,
0.02,0.02,0.02,0.02,0.02,0.02,0.02,0.02,0.02,0.02,
0.03,0.03,0.04,0.05,0.06,0.07,0.09,0.11,0.14,0.18,
0.22];
const C_1p6MHz = [0.02,0.02,0.02,0.02,0.02,0.02,0.02,0.02,0.02,0.02,
0.02,0.02,0.02,0.02,0.02,0.02,0.02,0.02,0.02,0.02,
0.02,0.02,0.02,0.02,0.02,0.02,0.02,0.02,0.02,0.02,
0.02,0.02,0.02,0.02,0.02,0.02,0.02,0.02,0.02,0.02,
0.02,0.02,0.02,0.02,0.02,0.02,0.02,0.02,0.02,0.02,
0.02,0.03,0.03,0.04,0.05,0.06,0.08,0.1,0.13,0.16,
0.2];
const C_1p8MHz = [0.02,0.02,0.02,0.02,0.02,0.02,0.02,0.02,0.02,0.02,
0.02,0.02,0.02,0.02,0.02,0.02,0.02,0.02,0.02,0.02,
0.02,0.02,0.02,0.02,0.02,0.02,0.02,0.02,0.02,0.02,
0.02,0.02,0.02,0.02,0.02,0.02,0.02,0.02,0.02,0.02,
0.02,0.02,0.02,0.02,0.02,0.02,0.02,0.02,0.02,0.02,
0.02,0.03,0.03,0.04,0.05,0.06,0.07,0.09,0.11,0.14,
0.18];
const C_2MHz = [0.02,0.02,0.02,0.02,0.02,0.02,0.02,0.02,0.02,0.02,
0.02,0.02,0.02,0.02,0.02,0.02,0.02,0.02,0.02,0.02,
0.02,0.02,0.02,0.02,0.02,0.02,0.02,0.02,0.02,0.02,
0.02,0.02,0.02,0.02,0.02,0.02,0.02,0.02,0.02,0.02,
0.02,0.02,0.02,0.02,0.02,0.02,0.02,0.02,0.02,0.02,
0.02,0.02,0.03,0.03,0.04,0.05,0.06,0.08,0.1,0.12,
0.15];

// Legend labels
const A_labels = ['50Hz','500Hz','1KHz','10KHz','50KHz','100KHz','150KHz','200KHz','250KHz','300KHz','350KHz','400KHz','450KHz',
  '500KHz','550KHz','600KHz','650KHz','700KHz','800KHz','900KHz','1.0MHz','1.2MHz','1.4MHz','1.6MHz','1.8MHz','2.0MHz'];
const B_labels = ['50Hz','500Hz','1KHz','10KHz','50KHz','100KHz','150KHz','200KHz','250KHz','300KHz','350KHz','400KHz','450KHz',
  '500KHz','550KHz','600KHz','650KHz','700KHz','750KHz','800KHz','850KHz','900KHz','950KHz','1MHz','1.2MHz','1.4MHz','1.6MHz','1.8MHz','2.0MHz'];
const C_labels = ['50Hz','500Hz','1KHz','10KHz','50KHz','100KHz','150KHz','200KHz','250KHz','300KHz','350KHz','400KHz','450KHz',
  '500KHz','550KHz','600KHz','650KHz','700KHz','750KHz','800KHz','850KHz','900KHz','950KHz','1MHz','1.2MHz','1.4MHz','1.6MHz','1.8MHz','2.0MHz'];

const A_series = [A_50Hz,A_500Hz,A_1kHz,A_10kHz,A_50kHz,A_100kHz,A_150kHz,A_200kHz,A_250kHz,A_300kHz,A_350kHz,A_400kHz,A_450kHz,
  A_500kHz,A_550kHz,A_600kHz,A_650kHz,A_700kHz,A_800kHz,A_900kHz,A_1MHz,A_1p2MHz,A_1p4MHz,A_1p6MHz,A_1p8MHz,A_2MHz];
const B_series = [B_50Hz,B_500Hz,B_1kHz,B_10kHz,B_50kHz,B_100kHz,B_150kHz,B_200kHz,B_250kHz,B_300kHz,B_350kHz,B_400kHz,B_450kHz,
  B_500kHz,B_550kHz,B_600kHz,B_650kHz,B_700kHz,B_750kHz,B_800kHz,B_850kHz,B_900kHz,B_950kHz,B_1MHz,B_1p2MHz,B_1p4MHz,B_1p6MHz,B_1p8MHz,B_2MHz];
const C_series = [C_50Hz,C_500Hz,C_1kHz,C_10kHz,C_50kHz,C_100kHz,C_150kHz,C_200kHz,C_250kHz,C_300kHz,C_350kHz,C_400kHz,C_450kHz,
  C_500kHz,C_550kHz,C_600kHz,C_650kHz,C_700kHz,C_750kHz,C_800kHz,C_850kHz,C_900kHz,C_950kHz,C_1MHz,C_1p2MHz,C_1p4MHz,C_1p6MHz,C_1p8MHz,C_2MHz];

// Tick values
const A_yTicks = [0,10,20,30,40,50,60];
const B_yTicks = [0,4,8,12,16,20,24];
const C_yTicks = [0,2,4,6,8,10,12];

// ---------- styling ----------
const A_colors = ['#00FF00','#0000FF','#00FFFF','#FF00FF','#FFFF00','#808000','#000080','#800080','#800000','#008000','#008080','#0000A0','#FF8000',
  '#8000FF','#FF0080','#FF0000','#C0C0C0','#808080','#FFFF80','#80FFFF','#FF80FF','#000000','#FF0000','#00FF00','#0000FF','#FF0000'];
const B_colors = ['#FF00FF','#FFFF00','#808000','#000080','#800080','#800000','#008000','#008080','#0000A0','#FF8000','#FF0080','#00FF00','#C0C0C0',
  '#FFFF80','#80FFFF','#FF80FF','#404040','#000000','#FF0000','#00FF00','#0000FF','#00FFFF','#FF00FF','#FFFF00','#808000','#000080','#800080','#800000','#FF0000'];
const C_colors = ['#FF0000','#00FF00','#0000FF','#FF00FF','#FFFF00','#800080','#800000','#008080','#000080','#8000FF','#FF0080','#FF0000','#C0C0C0',
  '#808080','#FFFF80','#80FFFF','#404040','#000000','#FF0000','#800000','#008000','#008080','#000080','#FF8000','#8000FF','#FF0080','#FF0000','#00FF00','#FF0000'];
const C_markers = ['circle','triangle','triangleDown','triangleLeft','triangleRight','hexagon','sphere','crossRot','star','vbar','rect','circle','triangle',
  'triangleDown','triangle','triangleLeft','hexagon','star5','pentagon','circle','triangleDown','rectRot','triangleLeft','triangleRight','hexagon','star5','pentagon','sphere','cross'];

const FONT = '"Liberation Sans", Arial, Helvetica, sans-serif';
const BUILTIN = {
  circle: ['circle', 0], triangle: ['triangle', 0], triangleDown: ['triangle', 180], triangleLeft: ['triangle', 270],
  triangleRight: ['triangle', 90], rect: ['rect', 0], rectRot: ['rectRot', 0], crossRot: ['crossRot', 0],
  cross: ['cross', 0], star: ['star', 0], vbar: ['line', 90]
};
const STROKED = ['crossRot', 'cross', 'star', 'vbar'];
const ENLARGED = ['triangle', 'rect', 'rectRot'];

// Marker glyphs that Chart.js has no built-in style for
function glyphPath(g, kind, cx, cy, r) {
  g.beginPath();
  if (kind === 'hexagon') {
    for (let k = 0; k < 6; k++) { const a = k * Math.PI / 3; const px = cx + r * Math.cos(a), py = cy + r * Math.sin(a); k ? g.lineTo(px, py) : g.moveTo(px, py); }
  } else if (kind === 'pentagon') {
    for (let k = 0; k < 5; k++) { const a = -Math.PI / 2 + k * 2 * Math.PI / 5; const px = cx + r * Math.cos(a), py = cy + r * Math.sin(a); k ? g.lineTo(px, py) : g.moveTo(px, py); }
  } else if (kind === 'star5') {
    for (let k = 0; k < 10; k++) { const rr = k % 2 ? r * 0.45 : r; const a = -Math.PI / 2 + k * Math.PI / 5; const px = cx + rr * Math.cos(a), py = cy + rr * Math.sin(a); k ? g.lineTo(px, py) : g.moveTo(px, py); }
  } else {
    g.arc(cx, cy, r, 0, Math.PI * 2);
  }
  g.closePath();
}
function glyphImage(kind, color, r) {
  const s = Math.ceil(2 * r + 2);
  const c = document.createElement('canvas'); c.width = s; c.height = s;
  const g = c.getContext('2d'); const m = s / 2;
  if (kind === 'sphere') {
    const grad = g.createRadialGradient(m - r * 0.35, m - r * 0.35, r * 0.05, m, m, r);
    grad.addColorStop(0, '#ffffff'); grad.addColorStop(0.4, color); grad.addColorStop(1, color);
    g.fillStyle = grad;
  } else {
    g.fillStyle = color;
  }
  glyphPath(g, kind === 'sphere' ? 'circle' : kind, m, m, kind === 'star5' ? r * 1.25 : r);
  g.fill();
  return c;
}

function buildDatasets(series, labels, colors, kinds, look) {
  return series.map((vals, i) => {
    const kind = kinds ? kinds[i] : 'circle';
    const col = colors[i];
    let style, rot = 0, r = look.r, bw = 0, legendImg = null;
    if (BUILTIN[kind]) {
      [style, rot] = BUILTIN[kind];
      if (ENLARGED.includes(style)) r = look.r * 1.3;
      if (STROKED.includes(kind)) bw = 1.6;
    } else {
      style = glyphImage(kind, col, look.r * 1.1);
      legendImg = glyphImage(kind, col, look.legendR * 1.1);
    }
    return {
      label: labels[i],
      data: temperature.map((t, k) => ({ x: t, y: vals[k] })),
      borderColor: col, backgroundColor: col, borderWidth: look.lw,
      pointStyle: style, pointRotation: rot, pointRadius: r, pointHoverRadius: r,
      pointBackgroundColor: col, pointBorderColor: col, pointBorderWidth: bw,
      tension: 0, clip: false, order: series.length - i,
      baseRadius: look.r, legendImg: legendImg
    };
  });
}

// Boxed frame with outward major/minor ticks on all four sides
const framePlugin = {
  id: 'frameTicks',
  afterDraw(chart, _args, o) {
    const { ctx, chartArea: ca, scales: { x, y } } = chart;
    const seg = (x1, y1, x2, y2) => { ctx.beginPath(); ctx.moveTo(x1, y1); ctx.lineTo(x2, y2); ctx.stroke(); };
    const isMajor = (v, step) => Math.abs(v / step - Math.round(v / step)) < 1e-6;
    ctx.save();
    ctx.strokeStyle = '#000';
    ctx.lineWidth = o.tickWidth;
    for (let v = o.xFrom; v <= o.xTo + 1e-9; v += o.xMinor) {
      const px = x.getPixelForValue(v); const L = isMajor(v, o.xMajor) ? o.major : o.minor;
      seg(px, ca.bottom, px, ca.bottom + L); seg(px, ca.top, px, ca.top - L);
    }
    for (let v = o.yFrom; v <= o.yTo + 1e-9; v += o.yMinor) {
      const py = y.getPixelForValue(v); const L = isMajor(v, o.yMajor) ? o.major : o.minor;
      seg(ca.left - L, py, ca.left, py); seg(ca.right, py, ca.right + L, py);
    }
    ctx.lineWidth = o.frameWidth;
    ctx.strokeRect(ca.left, ca.top, ca.right - ca.left, ca.bottom - ca.top);
    ctx.restore();
  }
};

// Legend drawn inside the plot: line segment, marker, label
const legendPlugin = {
  id: 'inLegend',
  afterDatasetsDraw(chart, _args, o) {
    const ctx = chart.ctx;
    ctx.save();
    chart.data.datasets.forEach((ds, i) => {
      const y = o.y0 + i * o.dy;
      const mx = (o.x0 + o.x1) / 2;
      ctx.strokeStyle = ds.borderColor; ctx.lineWidth = o.lw; ctx.lineCap = 'butt';
      ctx.beginPath(); ctx.moveTo(o.x0, y); ctx.lineTo(o.x1, y); ctx.stroke();
      ctx.fillStyle = ds.pointBackgroundColor; ctx.strokeStyle = ds.pointBorderColor;
      if (ds.legendImg) {
        ctx.drawImage(ds.legendImg, mx - ds.legendImg.width / 2, y - ds.legendImg.height / 2);
      } else {
        const rad = o.r * ds.pointRadius / ds.baseRadius;
        ctx.lineWidth = ds.pointBorderWidth > 0 ? ds.pointBorderWidth : 1;
        if (Chart.helpers && Chart.helpers.drawPoint) {
          Chart.helpers.drawPoint(ctx, { pointStyle: ds.pointStyle, rotation: ds.pointRotation, radius: rad, borderWidth: ds.pointBorderWidth }, mx, y);
        } else {
          ctx.beginPath(); ctx.arc(mx, y, rad, 0, Math.PI * 2); ctx.fill();
        }
      }
      ctx.fillStyle = '#000'; ctx.font = 'bold ' + o.size + 'px ' + FONT;
      ctx.textAlign = 'left'; ctx.textBaseline = 'middle';
      ctx.fillText(ds.label, o.tx, y);
    });
    ctx.restore();
  }
};

// Axis titles
const titlePlugin = {
  id: 'axisTitles',
  afterDraw(chart, _args, o) {
    const ctx = chart.ctx;
    ctx.save();
    ctx.fillStyle = '#000'; ctx.textAlign = 'center'; ctx.textBaseline = 'middle';
    ctx.font = 'bold ' + o.xSize + 'px ' + FONT;
    ctx.fillText(o.xText, o.xX, o.xY);
    ctx.translate(o.yX, o.yY); ctx.rotate(-Math.PI / 2);
    ctx.font = 'bold ' + o.ySize + 'px ' + FONT;
    ctx.fillText(o.yText, 0, 0);
    ctx.restore();
  }
};

function makePanel(id, p) {
  return new Chart(document.getElementById(id), {
    type: 'line',
    data: { datasets: p.datasets },
    options: {
      responsive: false, animation: false, devicePixelRatio: 1, events: [],
      layout: { padding: p.padding },
      plugins: {
        legend: { display: false }, tooltip: { enabled: false },
        frameTicks: p.frame, inLegend: p.legend, axisTitles: p.titles
      },
      scales: {
        x: {
          type: 'linear', min: 100, max: 400,
          grid: { display: false, drawTicks: false }, border: { display: false },
          afterBuildTicks: s => { s.ticks = tempTicks.map(v => ({ value: v })); },
          afterFit: s => { s.height = p.xH; },
          ticks: { font: { family: FONT, weight: 'bold', size: p.tickSize }, color: '#000', padding: p.xPad, maxRotation: 0, autoSkip: false }
        },
        y: {
          type: 'linear', min: p.yMin, max: p.yMax,
          grid: { display: false, drawTicks: false }, border: { display: false },
          afterBuildTicks: s => { s.ticks = p.yTicks.map(v => ({ value: v })); },
          afterFit: s => { s.width = p.yW; },
          ticks: { font: { family: FONT, weight: 'bold', size: p.tickSize }, color: '#000', padding: p.yPad, autoSkip: false }
        }
      }
    },
    plugins: [framePlugin, legendPlugin, titlePlugin]
  });
}

makePanel('panelA', {
  datasets: buildDatasets(A_series, A_labels, A_colors, null, { r: 4.5, lw: 2.5, legendR: 5.5 }),
  padding: { top: 21, right: 22, left: 0, bottom: 0 }, yW: 97, xH: 78,
  yMin: -0.83, yMax: 60, yTicks: A_yTicks, tickSize: 18, xPad: 10, yPad: 15,
  frame: { xFrom: 100, xTo: 400, xMajor: 50, xMinor: 25, yFrom: 0, yTo: 60, yMajor: 10, yMinor: 5, major: 7, minor: 4, tickWidth: 2, frameWidth: 3 },
  legend: { x0: 105, x1: 135, tx: 138, y0: 39, dy: 15.32, r: 5.5, size: 11, lw: 4 },
  titles: { xText: 'Temperature(K)', xX: 308, xY: 523, xSize: 28, yText: 'tanδ', yX: 23, yY: 218, ySize: 24 }
});

makePanel('panelB', {
  datasets: buildDatasets(B_series, B_labels, B_colors, null, { r: 5.5, lw: 3, legendR: 6 }),
  padding: { top: 17, right: 17, left: 0, bottom: 0 }, yW: 98, xH: 80,
  yMin: -0.73, yMax: 25.1, yTicks: B_yTicks, tickSize: 19.5, xPad: 10, yPad: 13,
  frame: { xFrom: 100, xTo: 400, xMajor: 50, xMinor: 25, yFrom: 0, yTo: 24, yMajor: 4, yMinor: 2, major: 7, minor: 4, tickWidth: 2, frameWidth: 3.5 },
  legend: { x0: 111, x1: 138, tx: 140, y0: 49, dy: 13.29, r: 6, size: 10, lw: 4 },
  titles: { xText: 'Temperature (K)', xX: 331, xY: 492, xSize: 28, yText: 'tanδ', yX: 32, yY: 245, ySize: 26 }
});

makePanel('panelC', {
  datasets: buildDatasets(C_series, C_labels, C_colors, C_markers, { r: 3.5, lw: 2.5, legendR: 5 }),
  padding: { top: 28, right: 32, left: 0, bottom: 0 }, yW: 88, xH: 72,
  yMin: -0.06, yMax: 12, yTicks: C_yTicks, tickSize: 18.5, xPad: 7, yPad: 15,
  frame: { xFrom: 100, xTo: 400, xMajor: 50, xMinor: 25, yFrom: 0, yTo: 12, yMajor: 2, yMinor: 1, major: 7, minor: 4, tickWidth: 2, frameWidth: 4 },
  legend: { x0: 105, x1: 133, tx: 135, y0: 41, dy: 13.25, r: 5, size: 10, lw: 4 },
  titles: { xText: 'Temperature (K)', xX: 304, xY: 505, xSize: 29.5, yText: 'tanδ', yX: 37, yY: 240, ySize: 30 }
});
</script>
</body>
</html>
